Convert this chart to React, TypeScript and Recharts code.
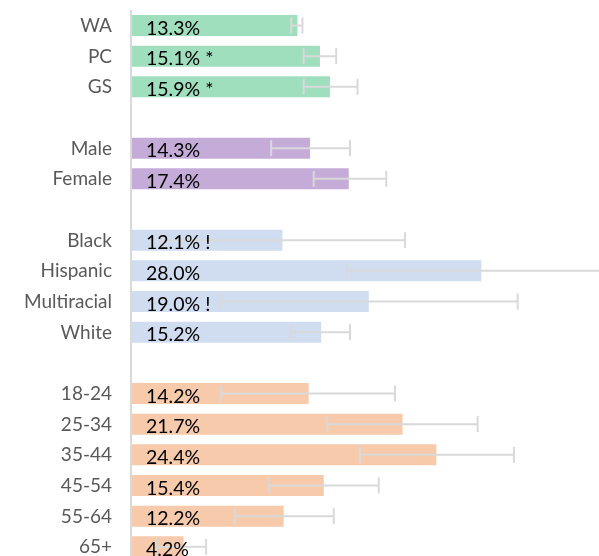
import { BarChart, Bar, XAxis, YAxis, ErrorBar, Cell, LabelList } from 'recharts';

// rows top to bottom; blank names are the gaps between groups
const categories = ['WA', 'PC', 'GS', ' ', 'Male', 'Female', '  ', 'Black', 'Hispanic', 'Multiracial', 'White', '   ', '18-24', '25-34', '35-44', '45-54', '55-64', '65+'];
const groups = ['area', 'area', 'area', '', 'sex', 'sex', '', 'race', 'race', 'race', 'race', '', 'age', 'age', 'age', 'age', 'age', 'age'];
const percents = [13.3, 15.1, 15.9, null, 14.3, 17.4, null, 12.1, 28.0, 19.0, 15.2, null, 14.2, 21.7, 24.4, 15.4, 12.2, 4.2];
const lowerCI = [12.8, 13.8, 13.8, null, 11.2, 14.6, null, 2.3, 17.3, 7.1, 12.8, null, 7.2, 15.7, 18.3, 11.0, 8.3, 2.0];
const upperCI = [13.7, 16.4, 18.1, null, 17.5, 20.4, null, 21.9, 38.7, 30.9, 17.5, null, 21.1, 27.7, 30.6, 19.8, 16.2, 6.0];
const flags = ['', ' *', ' *', '', '', '', '', ' !', '', ' !', '', '', '', '', '', '', '', ''];

const groupColors: Record<string, string> = {
  area: '#9FDFBE',
  sex: '#C5ABD8',
  race: '#D0DCF0',
  age: '#F6CAAB',
};

const data = categories.map((name, i) => {
  const v = percents[i];
  return {
    name,
    value: v,
    err: v == null ? undefined : [v - (lowerCI[i] as number), (upperCI[i] as number) - v],
    label: v == null ? '' : `${v.toFixed(1)}%${flags[i]}`,
    group: groups[i],
  };
});

const font = 'Lato, sans-serif';

const CategoryTick = (props: any) => {
  const { x, y, payload } = props;
  return (
    <text x={x} y={y} dy={6.5} textAnchor='end' fill='#595959' fontSize={19} fontFamily={font}>
      {String(payload.value).trim()}
    </text>
  );
};

const ValueLabel = (props: any) => {
  const { x, y, height, value } = props;
  if (!value) return null;
  return (
    <text x={x + 15} y={y + height / 2 + 9} fill='#000000' fontSize={19.5} fontFamily={font}>
      {value}
    </text>
  );
};

const App = () => {
  // fixed box so the last row is cut by the window edge without a scrollbar
  return (
    <div style={{ position: 'fixed', left: 8, top: 8, width: 591, height: 548, overflow: 'hidden' }}>
      <BarChart
        width={591}
        height={556}
        data={data}
        layout='vertical'
        margin={{ top: 2, right: 0, left: 0, bottom: 2 }}
      >
        <XAxis type='number' domain={[0, 37.4]} allowDataOverflow hide />
        <YAxis
          type='category'
          dataKey='name'
          width={123}
          axisLine={{ stroke: '#D9D9D9', strokeWidth: 2 }}
          tickLine={false}
          tickMargin={13}
          tick={<CategoryTick />}
          interval={0}
        />
        <Bar dataKey='value' barSize={21} isAnimationActive={false}>
          {data.map((d, i) => (
            <Cell key={i} fill={groupColors[d.group] || 'none'} />
          ))}
          <ErrorBar dataKey='err' direction='x' width={8} stroke='#D9D9D9' strokeWidth={2} />
          <LabelList dataKey='label' content={<ValueLabel />} />
        </Bar>
      </BarChart>
    </div>
  );
};

export default App;
